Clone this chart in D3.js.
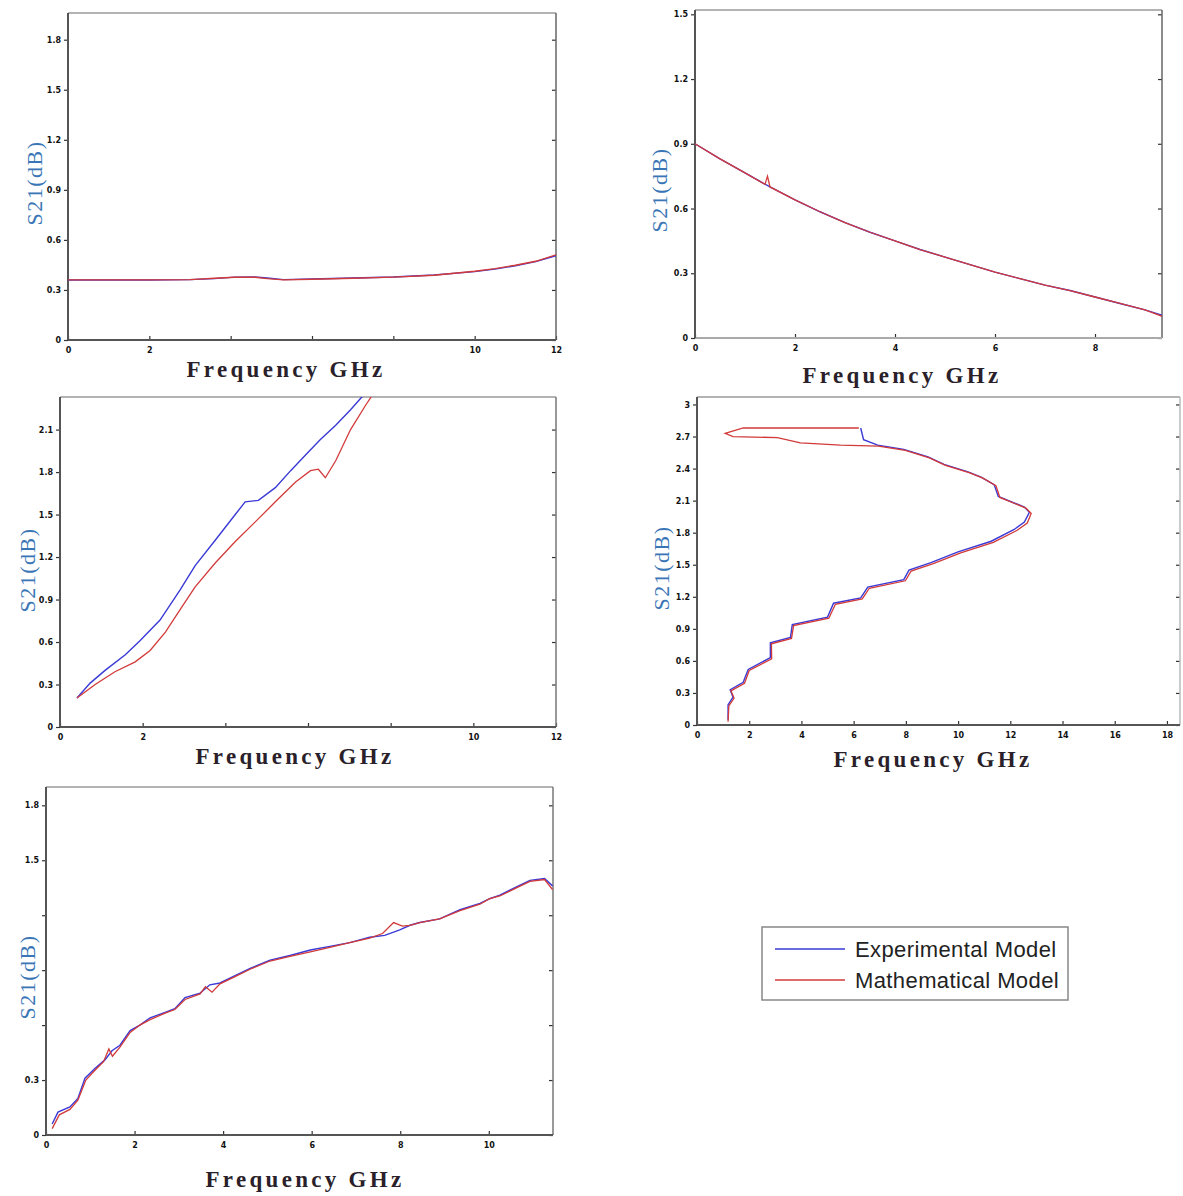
<!DOCTYPE html>
<html>
<head>
<meta charset="utf-8">
<script src="https://cdn.jsdelivr.net/npm/d3@7/dist/d3.min.js"></script>
<style>
  body { margin: 0; background: #fff; }
</style>
</head>
<body>
<svg id="fig" width="1183" height="1196"></svg>
<script>
// ---- data ----
// panel 1
var p1_freq = [0, 1, 2, 3, 3.6, 4.1, 4.6, 4.9, 5.3, 6, 7, 8, 9, 10, 10.5, 11, 11.5, 12];
var p1_exp  = [0.36, 0.36, 0.36, 0.362, 0.368, 0.377, 0.378, 0.372, 0.362, 0.366, 0.372, 0.378, 0.39, 0.41, 0.425, 0.445, 0.47, 0.505];
var p1_math = [0.36, 0.36, 0.36, 0.362, 0.37, 0.376, 0.376, 0.368, 0.36, 0.364, 0.37, 0.377, 0.388, 0.412, 0.428, 0.448, 0.472, 0.51];
var p1_xticks = [0, 2, 4, 6, 8, 10, 12];
var p1_xlabels = ["0", "2", "", "", "", "10", "12"];
var p1_yticks = [0, 0.3, 0.6, 0.9, 1.2, 1.5, 1.8];
var p1_ylabels = ["0", "0.3", "0.6", "0.9", "1.2", "1.5", "1.8"];

// panel 2
var p2_freq  = [0, 0.5, 1, 1.5, 2, 2.5, 3, 3.5, 4, 4.5, 5, 5.5, 6, 6.5, 7, 7.5, 8, 8.5, 9, 9.35];
var p2_exp   = [0.9, 0.83, 0.765, 0.70, 0.64, 0.585, 0.535, 0.49, 0.45, 0.41, 0.375, 0.34, 0.305, 0.275, 0.245, 0.22, 0.19, 0.16, 0.13, 0.105];
var p2_freqM = [0, 0.5, 1, 1.4, 1.45, 1.5, 2, 2.5, 3, 3.5, 4, 4.5, 5, 5.5, 6, 6.5, 7, 7.5, 8, 8.5, 9, 9.35];
var p2_math  = [0.9, 0.83, 0.765, 0.712, 0.75, 0.70, 0.64, 0.585, 0.535, 0.49, 0.45, 0.41, 0.375, 0.34, 0.305, 0.275, 0.245, 0.22, 0.19, 0.16, 0.13, 0.10];
var p2_xticks = [0, 2, 4, 6, 8];
var p2_xlabels = ["0", "2", "4", "6", "8"];
var p2_yticks = [0, 0.3, 0.6, 0.9, 1.2, 1.5];
var p2_ylabels = ["0", "0.3", "0.6", "0.9", "1.2", "1.5"];

// panel 3
var p3_freqE = [0.41, 0.73, 1.09, 1.58, 1.94, 2.42, 2.91, 3.27, 3.76, 4.24, 4.48, 4.8, 5.21, 5.58, 5.94, 6.3, 6.67, 7.03, 7.27, 7.52];
var p3_exp   = [0.205, 0.31, 0.40, 0.51, 0.61, 0.755, 0.97, 1.14, 1.32, 1.50, 1.59, 1.60, 1.69, 1.81, 1.92, 2.03, 2.13, 2.24, 2.32, 2.39];
var p3_freqM = [0.41, 0.85, 1.33, 1.82, 2.18, 2.55, 2.91, 3.27, 3.76, 4.24, 4.73, 5.21, 5.7, 6.06, 6.25, 6.42, 6.67, 7.03, 7.39, 7.64];
var p3_math  = [0.205, 0.30, 0.39, 0.46, 0.54, 0.67, 0.83, 0.99, 1.16, 1.31, 1.45, 1.59, 1.73, 1.81, 1.82, 1.76, 1.88, 2.10, 2.27, 2.38];
var p3_xticks = [0, 2, 4, 6, 8, 10, 12];
var p3_xlabels = ["0", "2", "", "", "", "10", "12"];
var p3_yticks = [0, 0.3, 0.6, 0.9, 1.2, 1.5, 1.8, 2.1];
var p3_ylabels = ["0", "0.3", "0.6", "0.9", "1.2", "1.5", "1.8", "2.1"];

// panel 4 (curve doubles back, points in path order)
var p4_freqE = [1.19, 1.19, 1.38, 1.27, 1.77, 1.96, 2.81, 2.81, 3.58, 3.65, 5.0, 5.23, 6.27, 6.54, 7.92, 8.12, 8.96, 10.0, 11.27, 12.15, 12.54, 12.73, 12.54, 11.54, 11.38, 10.88, 10.38, 9.46, 8.85, 7.92, 6.92, 6.38, 6.27];
var p4_exp   = [0.05, 0.19, 0.26, 0.33, 0.40, 0.52, 0.63, 0.77, 0.82, 0.94, 1.01, 1.14, 1.19, 1.29, 1.36, 1.45, 1.52, 1.62, 1.72, 1.83, 1.90, 1.99, 2.04, 2.14, 2.25, 2.32, 2.37, 2.44, 2.51, 2.58, 2.62, 2.67, 2.78];
var p4_freqM = [1.19, 1.22, 1.42, 1.3, 1.82, 2.0, 2.86, 2.85, 3.62, 3.7, 5.05, 5.3, 6.33, 6.6, 7.98, 8.2, 9.05, 10.1, 11.35, 12.25, 12.65, 12.8, 12.6, 11.6, 11.45, 10.95, 10.45, 9.52, 8.9, 7.98, 6.95, 5.5, 3.96, 3.08, 1.38, 1.08, 1.77, 3.96, 6.2];
var p4_math  = [0.03, 0.18, 0.25, 0.32, 0.39, 0.51, 0.62, 0.76, 0.81, 0.93, 1.0, 1.13, 1.18, 1.28, 1.35, 1.44, 1.51, 1.61, 1.71, 1.82, 1.89, 1.98, 2.03, 2.13, 2.24, 2.31, 2.36, 2.43, 2.50, 2.57, 2.61, 2.62, 2.64, 2.69, 2.70, 2.73, 2.78, 2.78, 2.78];
var p4_xticks = [0, 2, 4, 6, 8, 10, 12, 14, 16, 18];
var p4_xlabels = ["0", "2", "4", "6", "8", "10", "12", "14", "16", "18"];
var p4_yticks = [0, 0.3, 0.6, 0.9, 1.2, 1.5, 1.8, 2.1, 2.4, 2.7, 3];
var p4_ylabels = ["0", "0.3", "0.6", "0.9", "1.2", "1.5", "1.8", "2.1", "2.4", "2.7", "3"];

// panel 5
var p5_freqE = [0.14, 0.27, 0.54, 0.72, 0.88, 1.11, 1.33, 1.49, 1.67, 1.9, 2.12, 2.35, 2.69, 2.91, 3.14, 3.48, 3.7, 3.93, 4.27, 4.61, 5.06, 5.51, 5.97, 6.41, 6.86, 7.31, 7.65, 7.99, 8.22, 8.44, 8.89, 9.35, 9.8, 10.02, 10.25, 10.59, 10.93, 11.26, 11.44];
var p5_exp   = [0.06, 0.125, 0.153, 0.2, 0.31, 0.365, 0.41, 0.46, 0.49, 0.57, 0.6, 0.64, 0.67, 0.69, 0.75, 0.775, 0.82, 0.83, 0.87, 0.91, 0.955, 0.98, 1.01, 1.03, 1.05, 1.08, 1.09, 1.12, 1.145, 1.16, 1.18, 1.23, 1.265, 1.29, 1.31, 1.35, 1.39, 1.40, 1.36];
var p5_freqM = [0.14, 0.3, 0.54, 0.72, 0.9, 1.11, 1.3, 1.42, 1.5, 1.67, 1.9, 2.12, 2.35, 2.69, 2.91, 3.14, 3.48, 3.6, 3.75, 3.93, 4.27, 4.61, 5.06, 5.51, 5.97, 6.41, 6.86, 7.31, 7.6, 7.85, 8.05, 8.22, 8.44, 8.89, 9.35, 9.8, 10.02, 10.25, 10.59, 10.93, 11.26, 11.44];
var p5_math  = [0.035, 0.11, 0.14, 0.19, 0.3, 0.355, 0.4, 0.47, 0.43, 0.48, 0.56, 0.6, 0.63, 0.665, 0.685, 0.74, 0.77, 0.81, 0.78, 0.825, 0.865, 0.905, 0.95, 0.975, 1.0, 1.025, 1.05, 1.075, 1.1, 1.16, 1.14, 1.145, 1.16, 1.18, 1.225, 1.26, 1.29, 1.305, 1.345, 1.385, 1.395, 1.34];
var p5_xticks = [0, 2, 4, 6, 8, 10];
var p5_xlabels = ["0", "2", "4", "6", "8", "10"];
var p5_yticks = [0, 0.3, 0.6, 0.9, 1.2, 1.5, 1.8];
var p5_ylabels = ["0", "0.3", "", "", "", "1.5", "1.8"];

var legendNames = ["Experimental Model", "Mathematical Model"];
var blue = "#3a3ad6", red = "#d23a3a";

var svg = d3.select("#fig");
svg.append("rect").attr("width", 1183).attr("height", 1196).attr("fill", "#fff");

function zip(a, b) {
  return a.map(function (d, i) { return [d, b[i]]; });
}

function drawPanel(p, id) {
  var x = d3.scaleLinear().domain(p.xDomain).range([p.left, p.right]);
  var y = d3.scaleLinear().domain(p.yDomain).range([p.bottom, p.top]);
  var g = svg.append("g");

  svg.append("clipPath").attr("id", "clip" + id)
    .append("rect")
    .attr("x", p.left).attr("y", p.top)
    .attr("width", p.right - p.left).attr("height", p.bottom - p.top);

  // axes
  var xAxis = d3.axisBottom(x).tickValues(p.xTicks).tickSize(-4).tickPadding(7)
    .tickFormat(function (d, i) { return p.xLabels[i]; });
  var yAxis = d3.axisLeft(y).tickValues(p.yTicks).tickSize(4).tickPadding(3)
    .tickFormat(function (d, i) { return p.yLabels[i]; });
  g.append("g").attr("transform", "translate(0," + p.bottom + ")").call(xAxis);
  g.append("g").attr("transform", "translate(" + p.left + ",0)").call(yAxis);
  // mirrored ticks on the right side
  g.append("g").attr("transform", "translate(" + p.right + ",0)")
    .call(d3.axisRight(y).tickValues(p.yTicks).tickSize(-4).tickFormat(""));
  g.selectAll(".domain").remove();
  g.selectAll(".tick line").attr("stroke", "#333").attr("stroke-width", 1.2);
  g.selectAll(".tick text")
    .attr("fill", "#111")
    .style("font-family", "DejaVu Sans")
    .style("font-size", "8px")
    .style("font-weight", "bold");

  // box
  g.append("line").attr("x1", p.left).attr("x2", p.right).attr("y1", p.top).attr("y2", p.top)
    .attr("stroke", "#9a9a9a").attr("stroke-width", 1.5);
  g.append("line").attr("x1", p.right).attr("x2", p.right).attr("y1", p.top).attr("y2", p.bottom)
    .attr("stroke", p.rightColor).attr("stroke-width", 1.5);
  g.append("line").attr("x1", p.left).attr("x2", p.right).attr("y1", p.bottom).attr("y2", p.bottom)
    .attr("stroke", p.bottomColor).attr("stroke-width", 2);
  g.append("line").attr("x1", p.left).attr("x2", p.left).attr("y1", p.top).attr("y2", p.bottom)
    .attr("stroke", "#555").attr("stroke-width", 2);

  var line = d3.line().x(function (d) { return x(d[0]); }).y(function (d) { return y(d[1]); });
  var lines = g.append("g").attr("clip-path", "url(#clip" + id + ")");
  lines.append("path").datum(zip(p.expF, p.exp))
    .attr("d", line).attr("fill", "none").attr("stroke", blue).attr("stroke-width", 1.4);
  lines.append("path").datum(zip(p.mathF, p.math))
    .attr("d", line).attr("fill", "none").attr("stroke", red).attr("stroke-width", 1.3);

  // labels
  g.append("text").attr("x", p.xlab[0]).attr("y", p.xlab[1])
    .attr("text-anchor", "middle")
    .style("font-family", "Liberation Serif").style("font-size", "23px").style("font-weight", "bold")
    .style("letter-spacing", "3.3px")
    .attr("fill", "#2a1f2a")
    .text("Frequency GHz");
  g.append("text")
    .attr("transform", "translate(" + p.ylab[0] + "," + p.ylab[1] + ") rotate(-90)")
    .attr("text-anchor", "middle")
    .style("font-family", "Liberation Serif").style("font-size", "22px")
    .style("letter-spacing", "1.5px")
    .attr("fill", "#3a76b6")
    .text("S21(dB)");
}

var panels = [
  { left: 68, right: 556, top: 13, bottom: 340, xDomain: [0, 12], yDomain: [0, 1.96],
    xTicks: p1_xticks, xLabels: p1_xlabels, yTicks: p1_yticks, yLabels: p1_ylabels,
    expF: p1_freq, exp: p1_exp, mathF: p1_freq, math: p1_math,
    xlab: [286, 377], ylab: [42, 183], rightColor: "#666", bottomColor: "#555" },
  { left: 695, right: 1162, top: 10, bottom: 338, xDomain: [0, 9.34], yDomain: [0, 1.52],
    xTicks: p2_xticks, xLabels: p2_xlabels, yTicks: p2_yticks, yLabels: p2_ylabels,
    expF: p2_freq, exp: p2_exp, mathF: p2_freqM, math: p2_math,
    xlab: [902, 383], ylab: [667, 190], rightColor: "#666", bottomColor: "#aaa" },
  { left: 60, right: 556, top: 397, bottom: 727, xDomain: [0, 12], yDomain: [0, 2.33],
    xTicks: p3_xticks, xLabels: p3_xlabels, yTicks: p3_yticks, yLabels: p3_ylabels,
    expF: p3_freqE, exp: p3_exp, mathF: p3_freqM, math: p3_math,
    xlab: [295, 764], ylab: [35, 570], rightColor: "#777", bottomColor: "#555" },
  { left: 697, right: 1180, top: 397, bottom: 725, xDomain: [0, 18.5], yDomain: [0, 3.07],
    xTicks: p4_xticks, xLabels: p4_xlabels, yTicks: p4_yticks, yLabels: p4_ylabels,
    expF: p4_freqE, exp: p4_exp, mathF: p4_freqM, math: p4_math,
    xlab: [933, 767], ylab: [669, 568], rightColor: "#bbb", bottomColor: "#555" },
  { left: 46, right: 553, top: 787, bottom: 1135, xDomain: [0, 11.45], yDomain: [0, 1.9],
    xTicks: p5_xticks, xLabels: p5_xlabels, yTicks: p5_yticks, yLabels: p5_ylabels,
    expF: p5_freqE, exp: p5_exp, mathF: p5_freqM, math: p5_math,
    xlab: [305, 1187], ylab: [35, 977], rightColor: "#777", bottomColor: "#555" }
];

panels.forEach(function (p, i) { drawPanel(p, i); });

// legend
var lg = svg.append("g");
lg.append("rect").attr("x", 762).attr("y", 927).attr("width", 306).attr("height", 73)
  .attr("fill", "#fff").attr("stroke", "#888").attr("stroke-width", 1.5);
[blue, red].forEach(function (c, i) {
  lg.append("line").attr("x1", 775).attr("x2", 845)
    .attr("y1", 949 + i * 31).attr("y2", 949 + i * 31)
    .attr("stroke", c).attr("stroke-width", 1.4);
  lg.append("text").attr("x", 855).attr("y", 957 + i * 31)
    .style("font-family", "Liberation Sans").style("font-size", "22px")
    .style("letter-spacing", "0.4px")
    .attr("fill", "#222")
    .text(legendNames[i]);
});
</script>
</body>
</html>
